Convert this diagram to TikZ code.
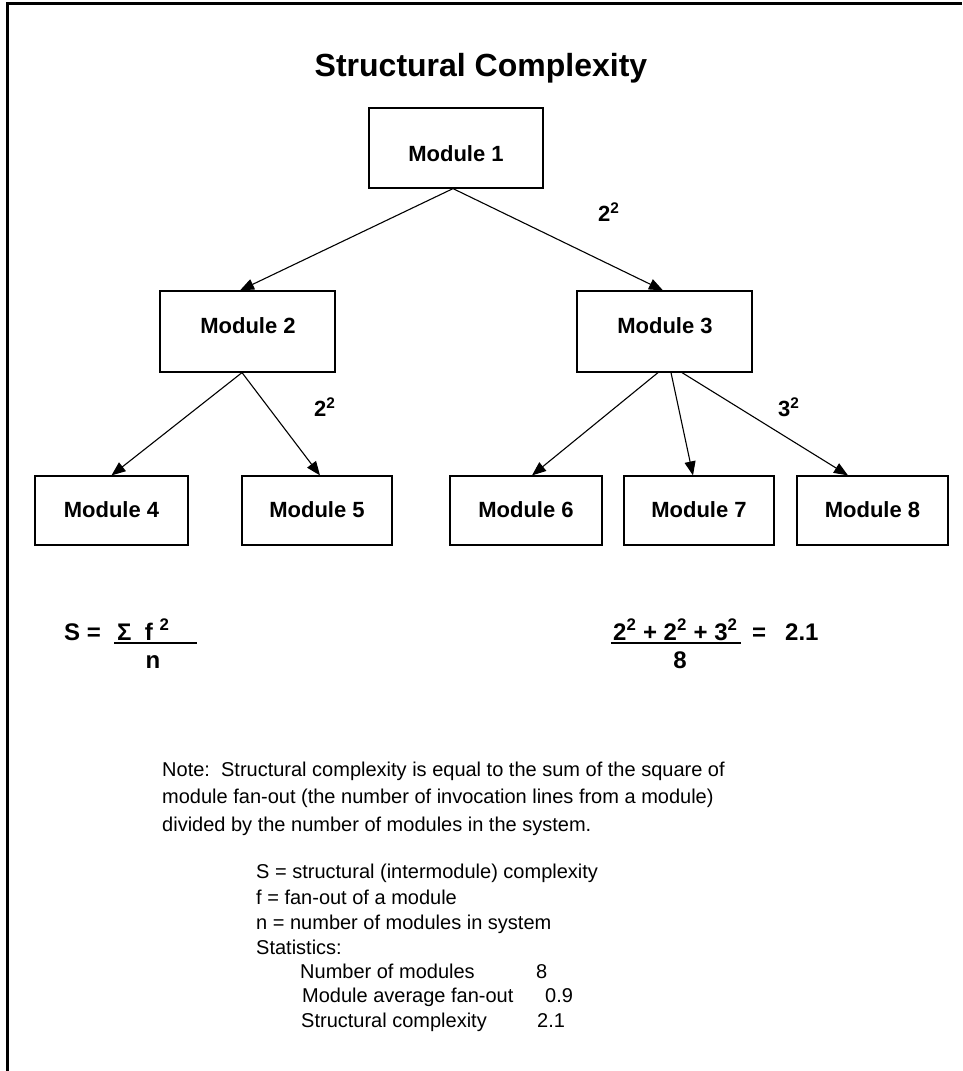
\documentclass[tikz,border=0pt]{standalone}
\usepackage{fontspec}
\setmainfont{Liberation Sans}
\usetikzlibrary{arrows.meta}
\begin{document}
\begin{tikzpicture}[x=1pt,y=-1pt,
  box/.style={draw, line width=1.2pt, inner sep=0pt, rectangle},
  modtxt/.style={anchor=base, inner sep=0pt, font=\fontsize{22}{26}\selectfont\bfseries},
  conn/.style={line width=1.1pt, -{Triangle[length=14pt,width=11pt]}},
  elab/.style={anchor=base west, inner sep=0pt, font=\fontsize{22}{26}\selectfont\bfseries},
  frm/.style={anchor=base west, inner sep=0pt, font=\fontsize{24}{28}\selectfont\bfseries},
  note/.style={anchor=base west, inner sep=0pt, font=\fontsize{20}{24}\selectfont}]
\useasboundingbox (0,0) rectangle (962,1071);
% frame
\draw[line width=3pt] (7.5,1071) -- (7.5,3.5) -- (962,3.5);
% title
\node[anchor=base, inner sep=0pt, font=\fontsize{32}{38}\selectfont\bfseries] (title) at (481,76) {Structural Complexity};
% boxes
\node[box, minimum width=174pt, minimum height=80pt] (m1) at (456,148) {};
\node[box, minimum width=175pt, minimum height=81pt] (m2) at (247.5,331.5) {};
\node[box, minimum width=175pt, minimum height=81pt] (m3) at (664.5,331.5) {};
\node[box, minimum width=153pt, minimum height=69pt] (m4) at (111.5,510.5) {};
\node[box, minimum width=150pt, minimum height=69pt] (m5) at (317,510.5) {};
\node[box, minimum width=152pt, minimum height=69pt] (m6) at (526,510.5) {};
\node[box, minimum width=150pt, minimum height=69pt] (m7) at (699,510.5) {};
\node[box, minimum width=151pt, minimum height=69pt] (m8) at (872.5,510.5) {};
% box texts
\node[modtxt] (t1) at (456,161) {Module 1};
\node[modtxt] (t2) at (248,333) {Module 2};
\node[modtxt] (t3) at (665,333) {Module 3};
\node[modtxt] (t4) at (111.5,517) {Module 4};
\node[modtxt] (t5) at (317,517) {Module 5};
\node[modtxt] (t6) at (526,517) {Module 6};
\node[modtxt] (t7) at (699,517) {Module 7};
\node[modtxt] (t8) at (872.5,517) {Module 8};
% connectors
\draw[conn] ([xshift=-3pt]m1.south) -- ([xshift=-7.5pt]m2.north);
\draw[conn] ([xshift=-3pt]m1.south) -- ([xshift=-1.5pt]m3.north);
\draw[conn] ([xshift=-5.5pt]m2.south) -- (m4.north);
\draw[conn] ([xshift=-5.5pt]m2.south) -- ([xshift=3pt]m5.north);
\draw[conn] ([xshift=-6.5pt]m3.south) -- ([xshift=6pt]m6.north);
\draw[conn] ([xshift=6.5pt]m3.south) -- ([xshift=-6pt]m7.north);
\draw[conn] ([xshift=17.5pt]m3.south) -- ([xshift=-24.5pt]m8.north);
% edge labels
\node[elab] (l13) at (598,221) {2\textsuperscript{2}};
\node[elab] (l25) at (314,416) {2\textsuperscript{2}};
\node[elab] (l38) at (778,416) {3\textsuperscript{2}};
% left formula
\node[frm] (fS) at (64,640) {S =};
\node[frm] (fnum) at (117,640) {{\fontspec{Liberation Sans}Σ}\ \ f \textsuperscript{2}};
\draw[line width=1.2pt] (114,643) -- (197,643);
\node[frm, anchor=base] (fn) at (153,668) {n};
% right formula
\node[frm] (rnum) at (613,640) {2\textsuperscript{2} + 2\textsuperscript{2} + 3\textsuperscript{2}};
\draw[line width=1.2pt] (611,643) -- (741,643);
\node[frm] (req) at (752,640) {=};
\node[frm] (rval) at (785,640) {2.1};
\node[frm, anchor=base] (r8) at (680,668) {8};
% note
\node[note] (n1) at (162,776) {Note:\ \ Structural complexity is equal to the sum of the square of};
\node[note] (n2) at (162,803) {module fan-out (the number of invocation lines from a module)};
\node[note] (n3) at (162,831) {divided by the number of modules in the system.};
\node[note] (d1) at (256,878) {S = structural (intermodule) complexity};
\node[note] (d2) at (256,904) {f = fan-out of a module};
\node[note] (d3) at (256,929) {n = number of modules in system};
\node[note] (d4) at (256,954) {Statistics:};
\node[note] (s1) at (300,978) {Number of modules};
\node[note] (s2) at (302,1002) {Module average fan-out};
\node[note] (s3) at (301,1027) {Structural complexity};
\node[note] (v1) at (536,978) {8};
\node[note] (v2) at (545,1002) {0.9};
\node[note] (v3) at (537,1027) {2.1};
\end{tikzpicture}
\end{document}
